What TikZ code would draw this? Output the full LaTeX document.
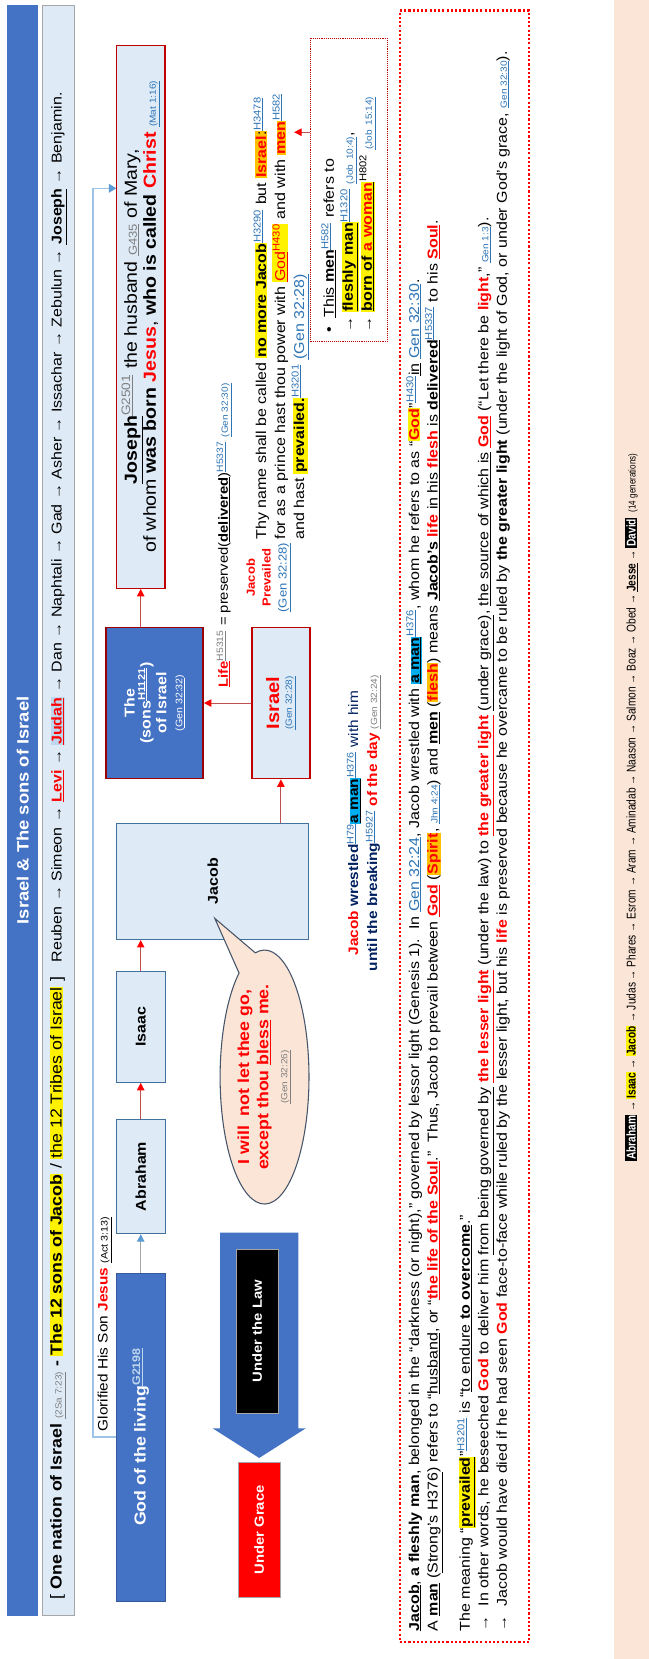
\documentclass[tikz,border=0pt]{standalone}
\usepackage{fontspec}
\setmainfont[FakeStretch=1.12]{Liberation Sans}
\newfontfamily\narrowfont[FakeStretch=0.8]{Liberation Sans}
\usetikzlibrary{arrows.meta}
\definecolor{titleblue}{HTML}{4472C4}
\definecolor{subfill}{HTML}{DEEBF7}
\definecolor{subline}{HTML}{A6A6A6}
\definecolor{boxfill}{HTML}{DEEBF7}
\definecolor{boxline}{HTML}{41719C}
\definecolor{boxred}{HTML}{C00000}
\definecolor{linkred}{HTML}{C0504D}
\definecolor{connblue}{HTML}{9DC3E6}
\definecolor{arrowblue}{HTML}{5B9BD5}
\definecolor{refblue}{HTML}{2E75B6}
\definecolor{refgray}{HTML}{7F7F7F}
\definecolor{peach}{HTML}{FBE5D6}
\definecolor{navy}{HTML}{002060}
\definecolor{judahbg}{HTML}{BDD7EE}
\definecolor{gold}{HTML}{FFC000}
\definecolor{bubbleline}{HTML}{44546A}
\newcommand{\hl}[2][yellow]{{\setlength{\fboxsep}{0.6pt}\colorbox{#1}{#2}}}
\newcommand{\hlb}[1]{{\setlength{\fboxsep}{1pt}\colorbox{black}{\color{white}\bfseries #1}}}
\newcommand{\sref}[1]{\textsuperscript{\color{refblue}\underline{#1}}}
\newcommand{\gsup}[1]{\textsuperscript{\color{refgray}\underline{#1}}}
\newcommand{\vref}[1]{{\fontsize{8.5}{10}\selectfont\color{refblue}\underline{#1}}}
\newcommand{\gref}[1]{{\fontsize{8.5}{10}\selectfont\color{refgray}\underline{#1}}}
\newcommand{\rb}[1]{\textcolor{red}{\textbf{#1}}}
\begin{document}
\begin{tikzpicture}[x=1pt,y=1pt,rotate=90,transform shape,
    lightbox/.style={draw=boxline,line width=1pt,fill=boxfill,font=\fontsize{13.5}{15}\selectfont\bfseries},
    redbox/.style={draw=boxred,line width=1.3pt,fill=boxfill,align=center},
    darkbox/.style={draw=titleblue!80!black,fill=titleblue,text=white,align=center,font=\fontsize{13.5}{15}\selectfont\bfseries},
    link/.style={draw=linkred,line width=1pt,-{Triangle[length=7pt,width=7pt,color=red]}},
    glory/.style={draw=connblue,line width=1.5pt,-{Triangle[length=7pt,width=8pt,color=arrowblue]}},
    txt/.style={anchor=west,align=left,inner sep=0pt}]
\useasboundingbox (0,0) rectangle (1568,-613);
\fill[white] (0,0) rectangle (1568,-613);
% header bars
\node[fill=titleblue,minimum width=1522,minimum height=29,text=white,font=\fontsize{15.5}{17}\selectfont\bfseries] (title) at (802,-21.5) {Israel \& The sons of Israel};
\node[draw=subline,fill=subfill,minimum width=1522,minimum height=30] (tribesbar) at (802,-55) {};
\node[txt,font=\fontsize{13.5}{15}\selectfont] (tribes) at (56,-55) {{\fontsize{15}{17}\selectfont[ \textbf{One nation of Israel} \gref{(2Sa 7:23)} \textbf{-} \hl{\textbf{The 12 sons of Jacob}} / \hl{the 12 Tribes of Israel} ]}\quad Reuben → Simeon → \rb{\underline{Levi}} → \hl[judahbg]{\rb{\underline{Judah}}} → Dan → Naphtali → Gad → Asher → Issachar → Zebulun → \textbf{\underline{Joseph}} → Benjamin.};
% chain of boxes
\node[darkbox,minimum width=310,minimum height=46,font=\fontsize{15}{17}\selectfont\bfseries] (god) at (210,-133) {God of the living\textsuperscript{\color{judahbg}\underline{G2198}}};
\node[lightbox,minimum width=108,minimum height=46] (abraham) at (456,-133) {Abraham};
\node[lightbox,minimum width=105,minimum height=46] (isaac) at (597.5,-133) {Isaac};
\node[lightbox,minimum width=110,minimum height=182] (jacob) at (735,-201) {Jacob};
\node[darkbox,draw=boxred!80!black,line width=1.5pt,minimum width=143,minimum height=92] (sons) at (903.5,-146) {The\\(sons\textsuperscript{\underline{H1121}})\\of Israel\\{\fontsize{9}{11}\selectfont\mdseries(\underline{Gen 32:32})}};
\node[redbox,minimum width=143,minimum height=55] (israel) at (903.5,-265.5) {{\fontsize{17}{19}\selectfont\bfseries\color{red}Israel}\\\vref{(Gen 32:28)}};
\node[redbox,minimum width=513,minimum height=46,inner sep=1pt,font=\fontsize{16.5}{18}\selectfont] (joseph) at (1268.5,-133) {\textbf{\underline{Joseph}}\gsup{G2501} the husband {\fontsize{11}{12}\selectfont\color{refgray}\underline{G435}} of Mary,\\ of whom \textbf{was born} \rb{Jesus}, \textbf{who is called} \rb{Christ} \vref{(Mat 1:16)}};
% connectors
\draw[link,draw=subline,-{Triangle[length=7pt,width=7pt,color=arrowblue]}] (god) -- (abraham);
\draw[link] (abraham) -- (isaac);
\draw[link] (isaac.east) -- (jacob.west |- isaac.east);
\draw[link] (jacob.east |- israel.west) -- (israel.west);
\draw[link] (israel.north) -- (sons.south);
\draw[link] (sons.east |- joseph.west) -- (joseph.west);
\coordinate (jtop) at (1390,-110);
\draw[glory] (god.north) -- ++(0,22) -| (jtop);
\node[txt,font=\fontsize{13}{15}\selectfont] (glorified) at (215,-99) {Glorified His Son \rb{Jesus} {\fontsize{9}{11}\selectfont\underline{(Act 3:13)}}};
% law and grace
\fill[titleblue] (403,-208) -- (218,-208) -- (218,-201) -- (190,-245) -- (218,-289) -- (218,-282) -- (403,-282) -- cycle;
\node[draw=subline,fill=black,text=white,minimum width=155,minimum height=40,font=\fontsize{12.5}{15}\selectfont\bfseries] (law) at (310,-243) {Under the Law};
\node[draw=subline,fill=red,text=white,minimum width=128,minimum height=40,font=\fontsize{12.5}{15}\selectfont\bfseries] (grace) at (122,-245) {Under Grace};
% speech bubble
\filldraw[fill=peach,draw=bubbleline,line width=1pt] (700,-203) -- (667.4,-241.3) arc[start angle=12,end angle=-325,x radius=120,y radius=42] -- cycle;
\node[align=center,font=\fontsize{15}{18}\selectfont] (plea) at (550,-250) {{\color{red}\bfseries I will\ \ not let thee go,}\\{\color{red}\bfseries except thou \underline{bless} me.}\\\gref{(Gen 32:26)}};
% notes around Israel
\node[align=center,font=\fontsize{13}{18}\selectfont] (wrestle) at (790,-344) {\rb{Jacob} {\color{navy}\textbf{wrestled}}\sref{H79}\hl[cyan]{\textbf{\underline{a man}}}\sref{H376} {\color{navy}with him}\\{\color{navy}\textbf{until the breaking}}\sref{H5927} \rb{of the day} \gref{(Gen 32:24)}};
\node[txt,font=\fontsize{12.5}{15}\selectfont] (life) at (918,-212) {\rb{\underline{Life}}\gsup{H5315} = preserved(\textbf{\underline{delivered}})\sref{H5337} \vref{(Gen 32:30)}};
\node[align=center,font=\fontsize{11}{15}\selectfont] (prevail) at (1022,-254) {\rb{Jacob}\\\rb{Prevailed}\\{\color{refblue}\underline{(Gen 32:28)}}};
\node[txt,font=\fontsize{13.5}{18}\selectfont] (thyname) at (1058,-266) {Thy name shall be called \hl{\textbf{no more Jacob}}\sref{H3290} but \hl[gold]{\rb{Israel}:}\sref{H3478}\\for as a prince hast thou power with \hl{\color{red}\underline{God}\textsuperscript{H430}} and with \hl[gold]{\rb{men}}\sref{H582}\\and hast \hl{\textbf{prevailed.}}\sref{H3201} {\color{refblue}\underline{(Gen 32:28)}}};
\node[draw=boxred,densely dotted,line width=0.8pt,minimum width=287,minimum height=73,text width=270,align=left,font=\fontsize{13.5}{18}\selectfont] (menbox) at (1388.5,-329.5) {•\ \ \underline{This \textbf{men}}\sref{H582} refers to\\→ \hl{\textbf{\underline{fleshly man}}}\sref{H1320} \vref{(Job 10:4)},\\→ \hl{\textbf{\underline{born of \textcolor{red}{a woman}}}}\textsuperscript{H802} \vref{(Job 15:14)}};
\coordinate (mentip) at (1443,-278);
\draw[link] (mentip |- menbox.north) -- (mentip);
% notes frame
\draw[red,line width=2pt,dash pattern=on 2pt off 2pt] (16,-378) rectangle (1558,-500);
\node[anchor=north west,align=left,inner sep=0pt,font=\fontsize{13.5}{17.5}\selectfont] (notes) at (26,-384) {\textbf{\underline{Jacob}}, \textbf{a fleshly man}, belonged in the “darkness (or night),” governed by lessor light (Genesis 1).\ \ In {\color{refblue}\underline{Gen 32:24}}, Jacob wrestled with \hl[cyan]{\textbf{\underline{a man}}}\sref{H376}, whom he refers to as “\hl{\rb{God}}”\sref{H430}\underline{in} {\color{refblue}\underline{Gen 32:30}}.\\
A \textbf{\underline{man}} (\underline{Strong's H376}) refers to “\underline{husband}, or “\rb{\underline{the life of the Soul}}.”\ \ Thus, Jacob to prevail between \rb{\underline{God}} (\hl[gold]{\rb{Spirit}}, \vref{Jhn 4:24}) and \textbf{\underline{men}} (\hl[gold]{\rb{flesh}}) means \underline{\textbf{Jacob's} \rb{life} in his \rb{flesh} is \textbf{delivered}}\sref{H5337} to his \rb{\underline{Soul}}.\\[13pt]
The meaning “\hl{\textbf{\underline{prevailed}}}”\sref{H3201} is “\underline{to endure \textbf{to overcome}}.”\\
→\ \ In other words, he beseeched \rb{God} to deliver him \underline{from being governed by} \rb{\underline{the lesser light}} (under the law) to \rb{\underline{the greater light}} \underline{(under grace)}, \underline{the source of which is} \rb{\underline{God}} (“Let there be \rb{light},” \vref{Gen 1:3}).\\
→\ \ Jacob would have died if he had seen \rb{God} face-to-face while ruled by the lesser light, but his \rb{life} is preserved because he overcame to be ruled by \textbf{the greater light} (under the light of God, or under God's grace, \vref{Gen 32:30}).};
% generations band
\fill[peach] (0,-580) rectangle (1568,-613);
\node[font=\narrowfont\fontsize{12}{14}\selectfont] (kings) at (805,-597) {\hlb{Abraham} → \hl{\textbf{Isaac}} → \hl{\textbf{Jacob}} → Judas → Phares → Esrom → Aram → Aminadab → Naason → Salmon → Boaz → Obed → \textbf{\underline{Jesse}} → \hlb{David}\ \ {\fontsize{9.5}{11}\selectfont(14 generations)}};
\end{tikzpicture}
\end{document}
